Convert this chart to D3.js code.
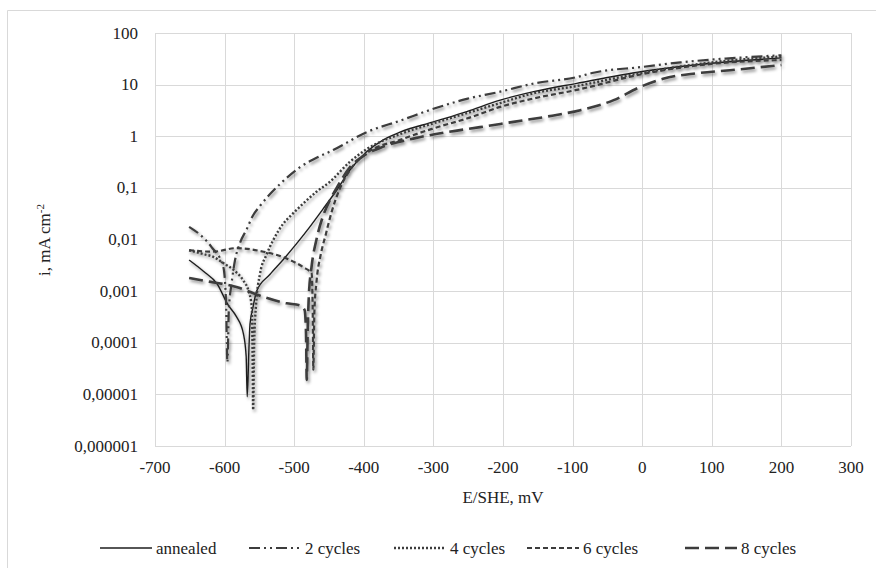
<!DOCTYPE html>
<html>
<head>
<meta charset="utf-8">
<script src="https://cdn.jsdelivr.net/npm/d3@7"></script>
<style>
  body { margin: 0; background: #fff; }
  svg text { font-family: "Liberation Serif", "Times New Roman", serif; fill: #222; }
</style>
</head>
<body>
<svg id="chart" width="876" height="568"></svg>
<script>
// E/SHE (mV), i (mA cm-2)
const annealed = [
  [-651, 0.0040], [-630, 0.0024], [-611, 0.0014], [-595, 5.4e-4], [-583, 3.2e-4],
  [-573, 1.5e-4], [-569, 5.4e-5], [-567.5, 9e-6], [-565, 8e-5], [-563.5, 2.3e-4],
  [-559, 5e-4], [-554, 1.0e-3], [-535, 2.1e-3], [-515, 4.2e-3], [-496, 8.5e-3],
  [-477, 0.018], [-458, 0.04], [-439, 0.09], [-420, 0.22], [-396, 0.5],
  [-372, 0.85], [-348, 1.2], [-300, 1.9], [-252, 3.0], [-204, 5.0],
  [-156, 7.3], [-94, 10.6], [0, 18], [100, 26], [200, 33]
]
const cycles2 = [
  [-651, 0.0176], [-631, 0.011], [-619, 0.0072], [-602, 0.003], [-598, 6.5e-4],
  [-596, 4.2e-5], [-594, 4e-4], [-590, 0.0014], [-585, 0.004], [-578, 0.0085],
  [-568, 0.016], [-560, 0.028], [-549, 0.045], [-535, 0.075], [-520, 0.12],
  [-492, 0.25], [-472, 0.36], [-444, 0.54], [-396, 1.2], [-348, 2.0],
  [-300, 3.4], [-252, 5.3], [-204, 7.3], [-156, 10.5], [-94, 14],
  [-70, 17], [0, 22], [55, 27], [120, 32], [200, 37]
]
const cycles4 = [
  [-651, 0.0062], [-630, 0.0052], [-616, 0.0046], [-602, 0.0035], [-587.5, 0.0026],
  [-573, 0.0016], [-566, 0.00105], [-561, 5e-4], [-560, 1.1e-4], [-559, 5e-6],
  [-557.5, 1e-4], [-555, 5e-4], [-549, 0.0022], [-540, 0.005], [-530, 0.0098],
  [-516, 0.02], [-506, 0.028], [-492, 0.043], [-468, 0.084], [-449, 0.13],
  [-420, 0.32], [-396, 0.56], [-348, 1.1], [-300, 1.78], [-252, 2.8],
  [-204, 4.4], [-156, 6.8], [-94, 9.4], [0, 17], [100, 27], [200, 35]
]
const cycles6 = [
  [-651, 0.0062], [-617, 0.0058], [-583, 0.0068], [-544, 0.0058], [-511, 0.0043],
  [-487, 0.0029], [-475, 0.0022], [-473.5, 5e-4], [-472.5, 3e-5], [-471, 4e-4],
  [-468, 0.0015], [-462, 0.005], [-455, 0.012], [-446, 0.035], [-434, 0.1],
  [-420, 0.22], [-396, 0.47], [-348, 0.85], [-300, 1.42], [-252, 2.2],
  [-204, 3.7], [-156, 5.4], [-94, 7.9], [0, 16], [97, 25], [200, 30]
]
const cycles8 = [
  [-651, 0.0018], [-631, 0.0016], [-583, 0.0012], [-544, 7.7e-4], [-511, 5.8e-4],
  [-492, 5.3e-4], [-485, 4.3e-4], [-483, 1.5e-4], [-482, 1.9e-5], [-480.5, 2e-4],
  [-479, 8e-4], [-475, 0.003], [-468, 0.01], [-458, 0.03], [-448, 0.06],
  [-439, 0.1], [-420, 0.25], [-400, 0.42], [-372, 0.63], [-329, 0.9],
  [-281, 1.2], [-233, 1.5], [-185, 1.9], [-137, 2.4], [-89, 3.2],
  [-41, 5.0], [-3, 9], [30, 13], [78, 16.6], [126, 19], [200, 24]
]

const seriesNames = ['annealed', '2 cycles', '4 cycles', '6 cycles', '8 cycles']
const xTicks = [-700, -600, -500, -400, -300, -200, -100, 0, 100, 200, 300]
const yTicks = [1e-6, 1e-5, 1e-4, 1e-3, 1e-2, 1e-1, 1, 10, 100]
const yTickLabels = ['0,000001', '0,00001', '0,0001', '0,001', '0,01', '0,1', '1', '10', '100']

const series = [
  { name: seriesNames[0], data: annealed, dash: null, width: 1.4 },
  { name: seriesNames[1], data: cycles2, dash: '11,4,2,4,2,4', width: 2.2 },
  { name: seriesNames[2], data: cycles4, dash: '2,2', width: 2.4 },
  { name: seriesNames[3], data: cycles6, dash: '5,3', width: 2.2 },
  { name: seriesNames[4], data: cycles8, dash: '14,6', width: 2.6 }
]

const svg = d3.select('#chart')

// drop shadow like the original
const defs = svg.append('defs')
const f = defs.append('filter').attr('id', 'shadow')
  .attr('x', '-10%').attr('y', '-10%').attr('width', '130%').attr('height', '130%')
f.append('feDropShadow').attr('dx', 1.5).attr('dy', 2.2).attr('stdDeviation', 1.6)
  .attr('flood-color', '#000').attr('flood-opacity', 0.45)

// outer chart border (left / top only visible)
svg.append('path').attr('d', 'M7.5,600 V10.5 H900')
  .attr('fill', 'none').attr('stroke', '#d9d9d9')

const x = d3.scaleLinear().domain([-700, 300]).range([155, 851])
const y = d3.scaleLog().domain([1e-6, 100]).range([446, 33])

// grid
svg.append('g').selectAll('line').data(xTicks).join('line')
  .attr('x1', d => Math.round(x(d)) + 0.5).attr('x2', d => Math.round(x(d)) + 0.5)
  .attr('y1', y(100)).attr('y2', y(1e-6))
  .attr('stroke', '#d9d9d9')
svg.append('g').selectAll('line').data(yTicks).join('line')
  .attr('y1', d => Math.round(y(d)) + 0.5).attr('y2', d => Math.round(y(d)) + 0.5)
  .attr('x1', x(-700)).attr('x2', x(300))
  .attr('stroke', '#d9d9d9')

// tick labels
svg.append('g').selectAll('text').data(xTicks).join('text')
  .attr('x', d => x(d)).attr('y', 473)
  .attr('text-anchor', 'middle').attr('font-size', 17)
  .text(d => d)
svg.append('g').selectAll('text').data(yTicks).join('text')
  .attr('x', 138).attr('y', d => y(d) + 5.5)
  .attr('text-anchor', 'end').attr('font-size', 17)
  .text((d, i) => yTickLabels[i])

// axis titles
svg.append('text').attr('x', 503).attr('y', 503)
  .attr('text-anchor', 'middle').attr('font-size', 17).text('E/SHE, mV')
const yt = svg.append('text').attr('transform', 'translate(50,240) rotate(-90)')
  .attr('text-anchor', 'middle').attr('font-size', 17)
yt.append('tspan').text('i, mA cm')
yt.append('tspan').attr('font-size', 11).attr('dy', -6).text('-2')

// curves
const line = d3.line()
  .x(d => x(d[0])).y(d => y(d[1]))
  .curve(d3.curveMonotoneX)

const curves = svg.append('g').attr('filter', 'url(#shadow)')
series.forEach(s => {
  curves.append('path')
    .attr('d', line(s.data))
    .attr('fill', 'none')
    .attr('stroke', s.dash ? '#3c3c3c' : '#1e1e1e')
    .attr('stroke-width', s.width)
    .attr('stroke-dasharray', s.dash)
})

// legend
const legendX = [100, 249, 394, 527, 685]
const lg = svg.append('g')
series.forEach((s, i) => {
  lg.append('line')
    .attr('x1', legendX[i]).attr('x2', legendX[i] + 52)
    .attr('y1', 548).attr('y2', 548)
    .attr('stroke', s.dash ? '#3c3c3c' : '#1e1e1e')
    .attr('stroke-width', s.width)
    .attr('stroke-dasharray', s.dash)
  lg.append('text')
    .attr('x', legendX[i] + 56).attr('y', 553.5)
    .attr('font-size', 17)
    .text(s.name)
})
</script>
</body>
</html>
